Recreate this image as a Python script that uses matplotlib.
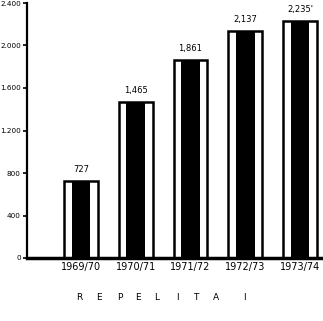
import matplotlib
matplotlib.use("Agg")
import matplotlib.pyplot as plt

years = ["1969/70", "1970/71", "1971/72", "1972/73", "1973/74"]
values = [727, 1465, 1861, 2137, 2235]
value_labels = ["727", "1,465", "1,861", "2,137", "2,235'"]
yticks = [0, 400, 800, 1200, 1600, 2000, 2400]
ytick_labels = ["0", "400", "800", "1.200", "1.600", "2.000", "2.400"]
footer_letters = ["R", "E", "P", "E", "L", "I", "T", "A", "I"]

fig = plt.figure(figsize=(3.23, 3.21), dpi=100)
ax = fig.add_axes([27/323, 63/321, 296/323, 255/321])

x = list(range(len(years)))
ax.bar(x, values, width=0.62, color="white", edgecolor="black", linewidth=1.8, zorder=2)
ax.bar(x, values, width=0.34, color="black", linewidth=0, zorder=3)

for xi, v, lab in zip(x, values, value_labels):
    ax.annotate(lab, (xi, v), xytext=(0, 5), textcoords="offset points",
                ha="center", va="bottom", fontsize=6)

ax.set_xlim(-0.986, 4.42)
ax.set_ylim(0, 2400)
ax.set_xticks(x)
ax.set_xticklabels(years, fontsize=7)
ax.tick_params(axis="x", length=0, pad=3)
ax.set_yticks(yticks)
ax.set_yticklabels(ytick_labels, fontsize=5.2)
ax.tick_params(axis="y", length=3, width=1.2, pad=1.5, direction="out")

ax.spines["top"].set_visible(False)
ax.spines["right"].set_visible(False)
ax.spines["left"].set_linewidth(1.6)
ax.spines["bottom"].set_linewidth(2.5)

footer_x = [79, 99, 120, 138, 157, 177, 196, 216, 244]
for lx, letter in zip(footer_x, footer_letters):
    fig.text(lx/323, 1 - 297/321, letter, ha="center", va="center", fontsize=6.5)

fig.savefig("out.png", dpi=100)
